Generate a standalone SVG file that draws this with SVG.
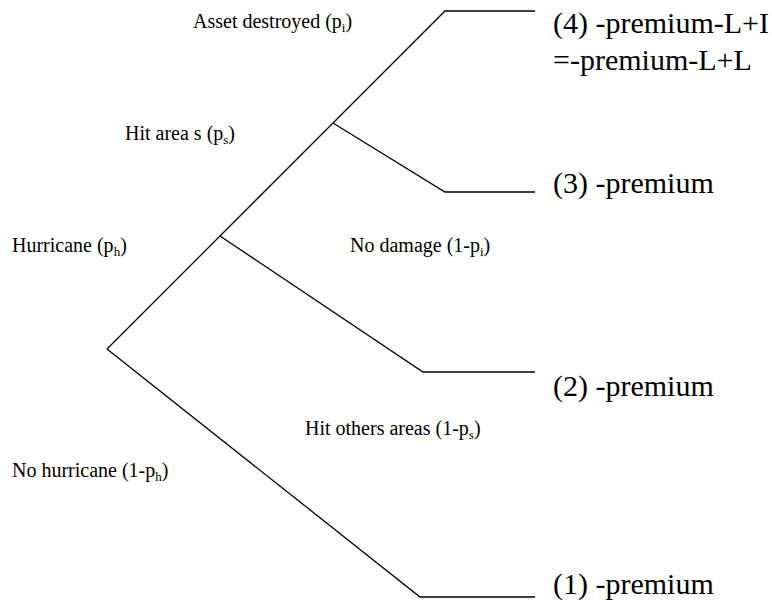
<svg xmlns="http://www.w3.org/2000/svg" width="772" height="603" viewBox="0 0 772 603">
<style>
.edge{fill:none;stroke:#000;stroke-width:1.3;stroke-linejoin:miter}
.lbl{font-family:"Liberation Serif","Times New Roman",serif;font-size:20px;fill:#000}
.out{font-family:"Liberation Serif","Times New Roman",serif;font-size:30px;fill:#000}
.sub{font-size:13px}
</style>
<rect width="772" height="603" fill="#fff"/>
<g id="connectors">
<path class="edge" d="M107,349 L220,236 L333,123 L445,11 L535,11"/>
<path class="edge" d="M333,123 L445,192 L535,192"/>
<path class="edge" d="M220,236 L423,372 L535,372"/>
<path class="edge" d="M107,349 L420,597 L535,597"/>
</g>
<g id="label-asset-destroyed"><text class="lbl" x="193" y="28">Asset destroyed (p<tspan class="sub" dy="4">i</tspan><tspan dy="-4">)</tspan></text></g>
<g id="label-hit-area"><text class="lbl" x="125" y="140">Hit area s (p<tspan class="sub" dy="4">s</tspan><tspan dy="-4">)</tspan></text></g>
<g id="label-hurricane"><text class="lbl" x="12" y="252">Hurricane (p<tspan class="sub" dy="4">h</tspan><tspan dy="-4">)</tspan></text></g>
<g id="label-no-damage"><text class="lbl" x="350" y="252">No damage (1-p<tspan class="sub" dy="4">i</tspan><tspan dy="-4">)</tspan></text></g>
<g id="label-hit-others"><text class="lbl" x="305" y="435">Hit others areas (1-p<tspan class="sub" dy="4">s</tspan><tspan dy="-4">)</tspan></text></g>
<g id="label-no-hurricane"><text class="lbl" x="12" y="477">No hurricane (1-p<tspan class="sub" dy="4">h</tspan><tspan dy="-4">)</tspan></text></g>
<g id="outcome-4"><text class="out" x="553" y="33">(4) -premium-L+I</text><text class="out" x="553" y="70">=-premium-L+L</text></g>
<g id="outcome-3"><text class="out" x="553" y="193">(3) -premium</text></g>
<g id="outcome-2"><text class="out" x="553" y="396">(2) -premium</text></g>
<g id="outcome-1"><text class="out" x="553" y="594">(1) -premium</text></g>
</svg>
